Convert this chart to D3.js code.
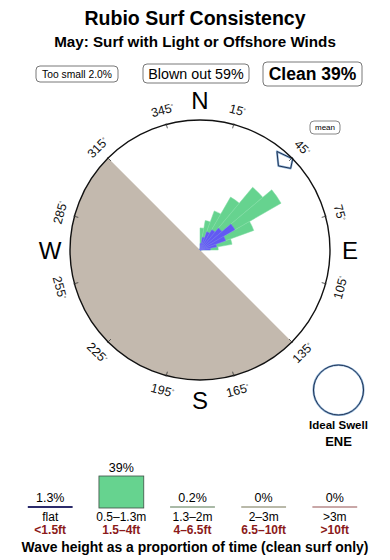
<!DOCTYPE html>
<html>
<head>
<meta charset="utf-8">
<script src="https://cdn.jsdelivr.net/npm/d3@7"></script>
<style>
  body { margin: 0; background: #fff; }
  svg { display: block; font-family: "Liberation Sans", Arial, sans-serif; }
</style>
</head>
<body>
<div id="chart"></div>
<script>
// Dades llegides del gràfic
const title = "Rubio Surf Consistency";
const subtitle = "May: Surf with Light or Offshore Winds";
const summaryLabels = ["Too small 2.0%", "Blown out 59%", "Clean 39%"];

// rosa de l'onatge: sectors de 10 graus (inici del sector)
const dirStart = [0, 10, 20, 30, 40, 50, 60, 70, 80];
const cleanAll = [17, 23, 32, 47, 63, 72, 44, 25, 14];   // verd
const cleanBig = [5, 10, 15, 18, 22, 31, 21, 13, 8];     // blau
const meanDir = 43;
const landFrom = 135, landTo = 315;
const tickAngles = [15, 45, 75, 105, 135, 165, 195, 225, 255, 285, 315, 345];
const compass = [["N", 0], ["E", 90], ["S", 180], ["W", 270]];
const idealSwell = "ENE";

// alçada d'onada
const heightM = ["flat", "0.5\u20131.3m", "1.3\u20132m", "2\u20133m", ">3m"];
const heightFt = ["<1.5ft", "1.5\u20134ft", "4\u20136.5ft", "6.5\u201310ft", ">10ft"];
const heightPct = [1.3, 39, 0.2, 0, 0];
const heightLbl = ["1.3%", "39%", "0.2%", "0%", "0%"];
const heightCol = ["#2b2b6b", "#66d38f", "#a9b9a6", "#b9b9a9", "#c9a7a7"];

const W = 390, H = 560;
const svg = d3.select("#chart").append("svg").attr("width", W).attr("height", H);

// Títols
svg.append("text").attr("x", 195).attr("y", 25).attr("text-anchor", "middle")
  .style("font-size", "19.5px").style("font-weight", "bold").text(title);
svg.append("text").attr("x", 195).attr("y", 47).attr("text-anchor", "middle")
  .style("font-size", "15.2px").style("font-weight", "bold").text(subtitle);

// Caixes de resum
const boxes = [
  { x: 36, y: 66, w: 82, h: 16, fs: 10.3, fw: "normal" },
  { x: 143, y: 64, w: 106, h: 19, fs: 14.3, fw: "normal" },
  { x: 263, y: 62, w: 99, h: 24, fs: 17.5, fw: "bold" }
];
boxes.forEach((b, i) => {
  svg.append("rect").attr("x", b.x).attr("y", b.y).attr("width", b.w).attr("height", b.h)
    .attr("rx", 4).attr("fill", "#fff").attr("stroke", "#555").attr("stroke-width", 0.8);
  svg.append("text").attr("x", b.x + b.w / 2).attr("y", b.y + b.h / 2)
    .attr("dy", "0.36em").attr("text-anchor", "middle")
    .style("font-size", b.fs + "px").style("font-weight", b.fw).text(summaryLabels[i]);
});

// Rosa
const cx = 200, cy = 250, R = 130;
const rad = d => d * Math.PI / 180;
const rScale = d3.scaleLinear().domain([0, 100]).range([0, R]);
const g = svg.append("g").attr("transform", `translate(${cx},${cy})`);

g.append("path")
  .attr("d", d3.arc()({ innerRadius: 0, outerRadius: R, startAngle: rad(landFrom), endAngle: rad(landTo) }))
  .attr("fill", "#c3b9ae");

const wedge = d3.arc().innerRadius(0);
g.selectAll("path.all").data(dirStart).join("path").attr("class", "all")
  .attr("d", (d, i) => wedge({ outerRadius: rScale(cleanAll[i]), startAngle: rad(d), endAngle: rad(d + 10) }))
  .attr("fill", "#66d38f").attr("stroke", "#7fdca3").attr("stroke-width", 0.5);
g.selectAll("path.big").data(dirStart).join("path").attr("class", "big")
  .attr("d", (d, i) => wedge({ outerRadius: rScale(cleanBig[i]), startAngle: rad(d), endAngle: rad(d + 10) }))
  .attr("fill", "#6259f3").attr("stroke", "#7a74f5").attr("stroke-width", 0.5);

const pol = (a, r) => [r * Math.sin(rad(a)), -r * Math.cos(rad(a))];

// Direcció mitjana
const meanShape = [pol(meanDir - 5, 125), pol(meanDir, 115), pol(meanDir + 5, 122), pol(meanDir + 2.5, 130)];
const meanPath = "M" + meanShape.join("L") + "Z";
g.append("path").attr("d", meanPath)
  .attr("fill", "#fff").attr("stroke", "#8fb4d8").attr("stroke-width", 2.2).attr("stroke-linejoin", "round");
g.append("path").attr("d", meanPath)
  .attr("fill", "none").attr("stroke", "#1f3152").attr("stroke-width", 1);

g.append("circle").attr("r", R).attr("fill", "none").attr("stroke", "#111").attr("stroke-width", 1.4);

// Marques i etiquetes de graus
tickAngles.forEach(a => {
  const p1 = pol(a, R - 4), p2 = pol(a, R + 1);
  g.append("line").attr("x1", p1[0]).attr("y1", p1[1]).attr("x2", p2[0]).attr("y2", p2[1])
    .attr("stroke", "#333").attr("stroke-width", 0.8);
  const p = pol(a, 145);
  const rot = (a > 90 && a < 270) ? a - 180 : (a >= 270 ? a - 360 : a);
  const t = g.append("text").attr("transform", `translate(${p[0]},${p[1]}) rotate(${rot})`)
    .attr("text-anchor", "middle").attr("dy", "0.36em").style("font-size", "12.5px").attr("fill", "#111");
  t.append("tspan").text(a);
  t.append("tspan").attr("dy", "-0.6em").style("font-size", "6px").text("\u00b0");
});

compass.forEach(([l, a]) => {
  const p = pol(a, 150);
  g.append("text").attr("x", p[0]).attr("y", p[1]).attr("dy", "0.36em").attr("text-anchor", "middle")
    .style("font-size", "24px").attr("fill", "#000").text(l);
});

svg.append("rect").attr("x", 310).attr("y", 121).attr("width", 30).attr("height", 13).attr("rx", 4)
  .attr("fill", "#fff").attr("stroke", "#555").attr("stroke-width", 0.7);
svg.append("text").attr("x", 325).attr("y", 127.5).attr("dy", "0.36em").attr("text-anchor", "middle")
  .style("font-size", "8px").text("mean");

// Onada ideal
svg.append("circle").attr("cx", 338.5).attr("cy", 390).attr("r", 25)
  .attr("fill", "#fff").attr("stroke", "#8fb4d8").attr("stroke-width", 2.2);
svg.append("circle").attr("cx", 338.5).attr("cy", 390).attr("r", 25)
  .attr("fill", "none").attr("stroke", "#1f3152").attr("stroke-width", 1);
svg.append("text").attr("x", 338.5).attr("y", 429).attr("text-anchor", "middle")
  .style("font-size", "11.5px").style("font-weight", "bold").text("Ideal Swell");
svg.append("text").attr("x", 338.5).attr("y", 446).attr("text-anchor", "middle")
  .style("font-size", "13px").style("font-weight", "bold").text(idealSwell);

// Barres d'alçada d'onada
const x = d3.scaleBand().domain(heightM).range([15, 370]).paddingInner(0.37).paddingOuter(0.18);
const y = d3.scaleLinear().domain([0, 39]).range([508, 476]);
const bars = svg.append("g");
heightM.forEach((m, i) => {
  const bx = x(m), bw = x.bandwidth(), mid = bx + bw / 2;
  const top = y(heightPct[i]);
  if (508 - top > 3) {
    bars.append("rect").attr("x", bx).attr("y", top).attr("width", bw).attr("height", 508 - top)
      .attr("fill", heightCol[i]).attr("stroke", "#3e4f45").attr("stroke-width", 0.8);
  } else {
    bars.append("rect").attr("x", bx).attr("y", 506).attr("width", bw).attr("height", 2)
      .attr("fill", heightCol[i]);
  }
  bars.append("text").attr("x", mid).attr("y", Math.min(top, 506) - 4).attr("text-anchor", "middle")
    .style("font-size", "12.5px").text(heightLbl[i]);
  bars.append("text").attr("x", mid).attr("y", 520.5).attr("text-anchor", "middle")
    .style("font-size", "12px").text(m);
  bars.append("text").attr("x", mid).attr("y", 533.5).attr("text-anchor", "middle")
    .style("font-size", "12px").style("font-weight", "bold").attr("fill", "#8b1a1a").text(heightFt[i]);
});
svg.append("text").attr("x", 195).attr("y", 552).attr("text-anchor", "middle")
  .style("font-size", "13.9px").style("font-weight", "bold")
  .text("Wave height as a proportion of time (clean surf only)");
</script>
</body>
</html>
